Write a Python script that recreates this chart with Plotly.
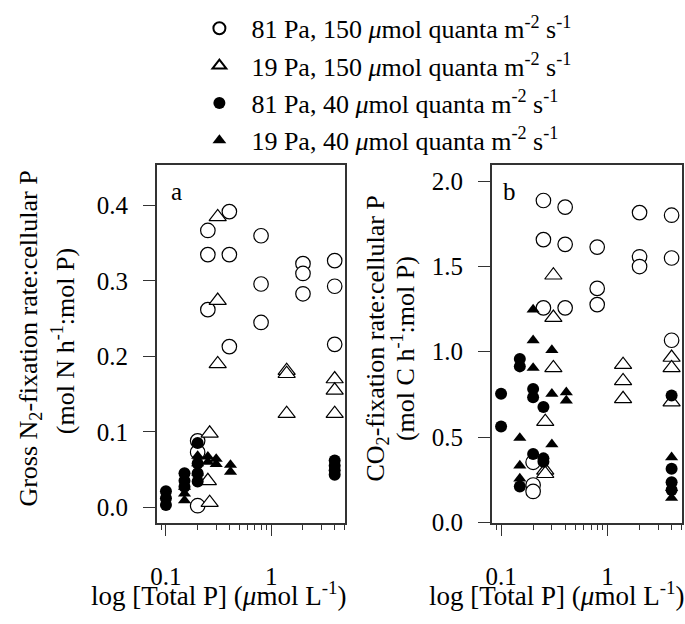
import plotly.graph_objects as go

W, H = 685, 624
FONT = "Liberation Serif"

# ---------------- data ----------------
series_names = [
    "81 Pa, 150 <i>μ</i>mol quanta m<sup>-2</sup> s<sup>-1</sup>",
    "19 Pa, 150 <i>μ</i>mol quanta m<sup>-2</sup> s<sup>-1</sup>",
    "81 Pa, 40 <i>μ</i>mol quanta m<sup>-2</sup> s<sup>-1</sup>",
    "19 Pa, 40 <i>μ</i>mol quanta m<sup>-2</sup> s<sup>-1</sup>",
]

# Panel a: Gross N2-fixation rate : cellular P
a_oc_x = [0.2, 0.2, 0.2, 0.25, 0.25, 0.25, 0.4, 0.4, 0.4, 0.8, 0.8, 0.8, 2, 2, 2, 4, 4, 4]
a_oc_y = [0.088, 0.073, 0.002, 0.367, 0.335, 0.262, 0.392, 0.335, 0.213, 0.360, 0.296, 0.245,
          0.323, 0.310, 0.283, 0.327, 0.293, 0.216]
a_ot_x = [0.26, 0.25, 0.26, 0.31, 0.31, 0.31, 1.4, 1.4, 1.4, 4, 4, 4]
a_ot_y = [0.098, 0.035, 0.006, 0.385, 0.274, 0.190, 0.181, 0.177, 0.124, 0.170, 0.155, 0.124]
a_sc_x = [0.1, 0.1, 0.1, 0.15, 0.15, 0.15, 0.2, 0.2, 0.2, 0.2, 4, 4, 4, 4]
a_sc_y = [0.021, 0.012, 0.003, 0.045, 0.035, 0.027, 0.085, 0.058, 0.045, 0.034, 0.062, 0.055, 0.049, 0.043]
a_st_x = [0.15, 0.15, 0.15, 0.2, 0.2, 0.2, 0.25, 0.25, 0.3, 0.3, 0.41, 0.41]
a_st_y = [0.027, 0.018, 0.009, 0.068, 0.058, 0.046, 0.067, 0.060, 0.064, 0.057, 0.056, 0.047]

# Panel b: CO2-fixation rate : cellular P
b_oc_x = [0.2, 0.2, 0.2, 0.25, 0.25, 0.25, 0.4, 0.4, 0.4, 0.8, 0.8, 0.8, 2, 2, 2, 4, 4, 4]
b_oc_y = [0.352, 0.219, 0.181, 1.886, 1.657, 1.257, 1.847, 1.629, 1.257, 1.613, 1.371, 1.276,
          1.815, 1.556, 1.499, 1.800, 1.549, 1.067]
b_ot_x = [0.26, 0.26, 0.26, 0.31, 0.31, 0.31, 1.4, 1.4, 1.4, 4, 4, 4]
b_ot_y = [0.590, 0.305, 0.285, 1.448, 1.200, 0.905, 0.924, 0.829, 0.724, 0.966, 0.905, 0.705]
b_sc_x = [0.1, 0.1, 0.15, 0.15, 0.15, 0.2, 0.2, 0.2, 0.25, 0.25, 0.25, 4, 4, 4, 4]
b_sc_y = [0.753, 0.562, 0.958, 0.914, 0.210, 0.781, 0.733, 0.400, 0.676, 0.375, 0.355, 0.743, 0.314, 0.235, 0.190]
b_st_x = [0.15, 0.15, 0.15, 0.2, 0.2, 0.2, 0.3, 0.3, 0.3, 0.41, 0.41, 4, 4, 4]
b_st_y = [0.495, 0.333, 0.257, 1.247, 1.067, 0.905, 1.010, 0.753, 0.457, 0.762, 0.714, 0.381, 0.200, 0.143]

x_tickvals = [0.1, 1]
x_ticktext = ["0.1", "1"]
x_minor = [0.09, 0.2, 0.3, 0.4, 0.5, 0.6, 0.7, 0.8, 0.9, 2, 3, 4, 5]
a_yticks = [0.0, 0.1, 0.2, 0.3, 0.4]
b_yticks = [0.0, 0.5, 1.0, 1.5, 2.0]


def px(x):
    return x / W


def py(y):
    return 1 - y / H


# ---------------- styles ----------------
styles = [
    dict(symbol="circle", size=14.5, color="white", line=dict(color="black", width=1.2)),
    dict(symbol="triangle-up", size=15, color="white", line=dict(color="black", width=1.2)),
    dict(symbol="circle", size=12, color="black", line=dict(color="black", width=0)),
    dict(symbol="triangle-up", size=11.5, color="black", line=dict(color="black", width=0)),
]

fig = go.Figure()
panel_a = [(a_oc_x, a_oc_y), (a_ot_x, a_ot_y), (a_sc_x, a_sc_y), (a_st_x, a_st_y)]
panel_b = [(b_oc_x, b_oc_y), (b_ot_x, b_ot_y), (b_sc_x, b_sc_y), (b_st_x, b_st_y)]

for i, (xs, ys) in enumerate(panel_a):
    fig.add_trace(go.Scatter(x=xs, y=ys, mode="markers", name=series_names[i],
                             legendgroup=str(i), marker=styles[i],
                             xaxis="x", yaxis="y", cliponaxis=False))
for i, (xs, ys) in enumerate(panel_b):
    fig.add_trace(go.Scatter(x=xs, y=ys, mode="markers", name=series_names[i],
                             legendgroup=str(i), showlegend=False, marker=styles[i],
                             xaxis="x2", yaxis="y2", cliponaxis=False))

AX = "#333333"


def xaxis_cfg(dom, anchor):
    return dict(domain=dom, anchor=anchor, type="log", range=[-1.088, 0.7],
                tickmode="array", tickvals=x_tickvals, ticktext=x_ticktext,
                ticks="outside", ticklen=11, tickwidth=1.3, tickcolor=AX,
                minor=dict(tickmode="array", tickvals=x_minor, ticks="outside",
                           ticklen=5, tickwidth=1.3, tickcolor=AX),
                showline=True, linecolor=AX, linewidth=1.5, mirror=True,
                showgrid=False, zeroline=False, ticklabelstandoff=19,
                tickfont=dict(family=FONT, size=25, color="black"))


def yaxis_cfg(dom, anchor, rng, tv):
    return dict(domain=dom, anchor=anchor, range=rng, tickmode="array", tickvals=tv,
                tickformat=".1f", ticks="outside", ticklen=12, tickwidth=1.3, tickcolor=AX,
                showline=True, linecolor=AX, linewidth=1.5, mirror=True,
                showgrid=False, zeroline=False, ticklabelstandoff=10,
                tickfont=dict(family=FONT, size=25, color="black"))


ydom = [py(534), py(168)]
fig.update_layout(
    width=W, height=H, autosize=False,
    margin=dict(l=0, r=0, t=0, b=0),
    paper_bgcolor="white", plot_bgcolor="white",
    font=dict(family=FONT, size=25, color="black"),
    xaxis=xaxis_cfg([px(152), px(342)], "y"),
    yaxis=yaxis_cfg(ydom, "x", [-0.0208, 0.4545], a_yticks),
    xaxis2=xaxis_cfg([px(490), px(682)], "y2"),
    yaxis2=yaxis_cfg(ydom, "x2", [-0.003, 2.097], b_yticks),
    showlegend=True,
    legend=dict(x=px(183), xanchor="left", y=py(5), yanchor="top",
                bgcolor="rgba(0,0,0,0)", itemsizing="constant", itemwidth=54,
                font=dict(family=FONT, size=26, color="black"),
                tracegroupgap=0.5),
)


def ann(text, x, y, angle=0, size=27):
    fig.add_annotation(text=text, xref="paper", yref="paper", x=px(x), y=py(y),
                       xanchor="center", yanchor="middle", showarrow=False,
                       textangle=angle, font=dict(family=FONT, size=size, color="black"))


ann("Gross N<sub>2</sub>-fixation rate:cellular P", 24, 346, -90, 26)
ann("(mol N h<sup>-1</sup>:mol P)", 58, 348, -90, 26)
ann("CO<sub>2</sub>-fixation rate:cellular P", 374, 346, -90, 26)
ann("(mol C h<sup>-1</sup>:mol P)", 401, 356, -90, 26)
ann("log [Total P] (<i>μ</i>mol L<sup>-1</sup>)", 214, 607)
ann("log [Total P] (<i>μ</i>mol L<sup>-1</sup>)", 555, 607)
ann("a", 172, 196, size=25)
ann("b", 508, 196, size=25)

fig.write_html("out.html", config={"displayModeBar": False},
               post_script="document.body.style.margin='0px';"
                           "document.body.style.overflow='hidden';")
